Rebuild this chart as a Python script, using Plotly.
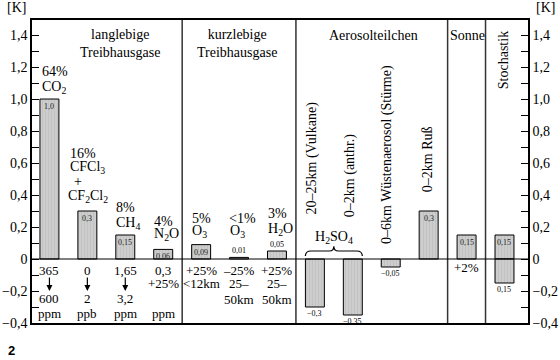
import plotly.graph_objects as go

# ---------------- data ----------------
categories = ["CO2", "CFCl3+CF2Cl2", "CH4", "N2O", "O3 (<12km)", "O3 (25-50km)", "H2O",
              "H2SO4 Vulkane", "H2SO4 anthr.", "Wüstenaerosol", "Ruß", "Sonne", "Stochastik"]
values = [1.0, 0.3, 0.15, 0.06, 0.09, 0.01, 0.05, -0.3, -0.35, -0.05, 0.3, 0.15, 0.15]
value_labels = ["1,0", "0,3", "0,15", "0,06", "0,09", "0,01", "0,05",
                "−0,3", "−0,35", "−0,05", "0,3", "0,15", "0,15"]
stoch_neg_value = -0.15
stoch_neg_label = "0,15"

group_names = ["langlebige<br>Treibhausgase", "kurzlebige<br>Treibhausgase",
               "Aerosolteilchen", "Sonne", "Stochastik"]
group_sizes = [4, 3, 4, 1, 1]

tick_vals = [-0.4, -0.2, 0, 0.2, 0.4, 0.6, 0.8, 1.0, 1.2, 1.4]
tick_text = ["−0,4", "−0,2", "0", "0,2", "0,4", "0,6", "0,8", "1,0", "1,2", "1,4"]

FONT = "Liberation Serif, Times New Roman, serif"
xpos = list(range(len(categories)))

fig = go.Figure()
bar_style = dict(width=0.5, marker=dict(color="#cdcdcd", line=dict(color="black", width=1),
                 pattern=dict(shape="|", fgcolor="#a8a8a8", size=3, solidity=0.2)),
                 hoverinfo="skip", showlegend=False)
fig.add_trace(go.Bar(x=xpos, y=values, **bar_style))
fig.add_trace(go.Bar(x=[xpos[-1]], y=[stoch_neg_value], **bar_style))
# invisible trace for right axis
fig.add_trace(go.Scatter(x=[0], y=[0], yaxis="y2", mode="markers",
                         marker=dict(opacity=0), hoverinfo="skip", showlegend=False))

ann = []
def T(x, y, text, size=14, xa="center", ya="middle", angle=0, xref="x", yref="y", family=FONT):
    ann.append(dict(x=x, y=y, text=text, showarrow=False, xanchor=xa, yanchor=ya,
                    textangle=angle, xref=xref, yref=yref,
                    font=dict(family=family, size=size, color="black")))

# value labels
for x, v, lab in zip(xpos, values, value_labels):
    if v < 0:
        T(x, v, lab, 8, ya="top")
    elif v >= 0.06:
        ann.append(dict(x=x, y=v, text=lab, showarrow=False, yanchor="top", yshift=-1,
                        font=dict(family=FONT, size=8, color="#222")))
    else:
        T(x, v, lab, 8, ya="bottom")
T(xpos[-1], stoch_neg_value, stoch_neg_label, 8, ya="top")

# group dividers and headings
shapes = []
b = -0.5
bounds = []
for s in group_sizes:
    bounds.append((b, b + s))
    b += s
for (l, r) in bounds[:-1]:
    shapes.append(dict(type="line", xref="x", yref="paper", x0=r, x1=r, y0=0, y1=1,
                       line=dict(color="#333", width=1.5)))

T(1.86, 1.345, group_names[0], 14)
T(3.84, 1.345, group_names[1], 14, xa="left")
T(8.54, 1.40, group_names[2], 14)
T(11.02, 1.40, group_names[3], 14)
T(11.97, 1.245, group_names[4], 14, angle=-90)

# labels above bars
T(-0.25, 1.169, "64%", 14, xa="left")
T(-0.25, 1.069, "CO<sub>2</sub>", 14, xa="left")
T(0.49, 0.6625, "16%", 14, xa="left")
T(0.49, 0.569, "CFCl<sub>3</sub>", 14, xa="left")
T(0.60, 0.485, "+", 14, xa="left")
T(0.435, 0.39, "CF<sub>2</sub>Cl<sub>2</sub>", 14, xa="left")
T(1.70, 0.319, "8%", 14, xa="left")
T(1.70, 0.225, "CH<sub>4</sub>", 14, xa="left")
T(2.70, 0.234, "4%", 14, xa="left")
T(2.70, 0.153, "N<sub>2</sub>O", 14, xa="left")
T(3.71, 0.256, "5%", 14, xa="left")
T(3.71, 0.169, "O<sub>3</sub>", 14, xa="left")
T(4.68, 0.256, "<1%", 14, xa="left")
T(4.70, 0.169, "O<sub>3</sub>", 14, xa="left")
T(5.71, 0.2875, "3%", 14, xa="left")
T(5.71, 0.1875, "H<sub>2</sub>O", 14, xa="left")

# rotated aerosol labels
T(6.93, 0.63, "20–25km (Vulkane)", 14, angle=-90)
T(7.93, 0.525, "0–2km (anthr.)", 14, angle=-90)
T(8.90, 0.656, "0–6km Wüstenaerosol (Stürme)", 14, angle=-90)
T(9.96, 0.625, "0–2km Ruß", 14, angle=-90)
T(7.5, 0.1375, "H<sub>2</sub>SO<sub>4</sub>", 14)

# brace under H2SO4
x0, x1 = xpos[7] - 0.25, xpos[8] + 0.25
xm = (x0 + x1) / 2
ye, yb, yt = 0.019, 0.05, 0.08
path = (f"M {x0},{ye} Q {x0},{yb} {x0+0.15},{yb} L {xm-0.12},{yb} Q {xm},{yb} {xm},{yt} "
        f"Q {xm},{yb} {xm+0.12},{yb} L {x1-0.15},{yb} Q {x1},{yb} {x1},{ye}")
shapes.append(dict(type="path", xref="x", yref="y", path=path, line=dict(color="black", width=1.2)))

# bottom labels
T(0, -0.069, "365", 13); T(0, -0.244, "600", 13); T(0, -0.3375, "ppm", 13)
T(1, -0.069, "0", 13); T(1, -0.244, "2", 13); T(1, -0.3375, "ppb", 13)
T(2, -0.069, "1,65", 13); T(2, -0.244, "3,2", 13); T(2, -0.3375, "ppm", 13)
T(3, -0.069, "0,3", 13); T(3, -0.156, "+25%", 13); T(3, -0.3375, "ppm", 13)
T(4, -0.069, "+25%", 13); T(4, -0.156, "<12km", 13)
T(5, -0.069, "–25%", 13); T(5, -0.156, "25–", 13); T(5, -0.25, "50km", 13)
T(6, -0.069, "+25%", 13); T(6, -0.156, "25–", 13); T(6, -0.25, "50km", 13)
T(11, -0.056, "+2%", 13)
for x in xpos[:3]:
    ann.append(dict(x=x, y=-0.2, ax=0, ay=-15, xref="x", yref="y", showarrow=True,
                    arrowhead=2, arrowsize=1, arrowwidth=1.2, arrowcolor="black", text=""))

# unit labels and figure number
T(-0.055, 1.04, "[K]", 14, xa="left", xref="paper", yref="paper")
T(1.012, 1.04, "[K]", 14, xa="left", xref="paper", yref="paper")
T(-0.052, -0.092, "<b>2</b>", 13, xa="left", xref="paper", yref="paper",
  family="Liberation Sans, Arial, sans-serif")

yax = dict(range=[-0.4, 1.494], tickvals=tick_vals, ticktext=tick_text, ticks="inside",
           ticklen=7, tickwidth=1, tickcolor="black", showgrid=False, showline=True,
           linecolor="black", linewidth=1.5, zeroline=False, automargin=False,
           tickfont=dict(family=FONT, size=14, color="black"),
           minor=dict(ticks="inside", dtick=0.1, ticklen=7, tickcolor="black", showgrid=False))
fig.update_layout(
    width=560, height=360, margin=dict(l=32, r=32, t=20, b=37),
    paper_bgcolor="white", plot_bgcolor="white", barmode="overlay",
    xaxis=dict(range=[-0.46, 12.62], showticklabels=False, ticks="", showgrid=False,
               zeroline=False, showline=True, mirror=True, linecolor="black", linewidth=1.5,
               automargin=False),
    yaxis=yax,
    yaxis2=dict(yax, overlaying="y", side="right"),
    annotations=ann, shapes=shapes + [dict(type="line", xref="paper", yref="y", x0=0, x1=1,
                                           y0=0, y1=0, line=dict(color="black", width=1))],
)
fig.write_html("out.html", config={"displayModeBar": False},
               post_script="document.body.style.margin='0';document.body.style.padding='0';")
